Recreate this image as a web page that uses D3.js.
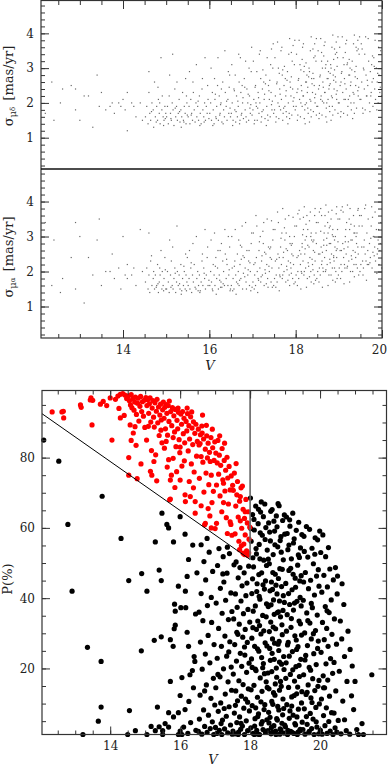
<!DOCTYPE html>
<html>
<head>
<meta charset="utf-8">
<script src="https://cdn.jsdelivr.net/npm/d3@7"></script>
<style>
body{margin:0;background:#fff}
svg{display:block}
text{font-family:"DejaVu Serif","Liberation Serif",serif;fill:#222}
</style>
</head>
<body>
<div id="chart"></div>
<script>
// stars of the upper two panels: [V, sigma mu_delta, sigma mu_alpha]
var topStars = [
[12.2,1.7,3.4],[12.35,2.6,1.6],[12.4,1.5,2.9],[12.55,2.0,1.4],[12.6,2.4,1.8],[12.8,2.5,2.4],[12.9,1.8,1.5],[13.0,1.5,3.0],[13.1,2.2,1.1],[13.2,2.2,2.4],
[13.3,1.3,1.9],[13.4,2.8,2.9],[13.45,1.9,3.5],[13.5,2.3,1.6],[13.6,1.8,2.0],[13.7,1.9,2.0],[13.75,2.0,2.5],[13.8,1.7,1.8],[13.9,2.0,2.1],[14.0,2.1,3.0],
[14.05,1.8,1.9],[14.1,2.3,2.2],[14.2,2.0,1.9],[14.25,1.9,2.1],[14.3,1.6,1.6],[14.4,2.0,3.2],[14.45,1.5,2.0],[14.1,1.2,1.8],[13.95,1.9,1.5],[12.9,2.4,3.4],
[14.52,1.6,1.7],[14.55,1.9,2.1],[14.58,1.4,1.5],[14.6,2.3,1.9],[14.62,1.7,1.4],[14.64,1.5,2.3],[14.67,2.0,1.6],[14.7,1.8,1.8],[14.71,1.3,2.0],[14.73,2.6,1.5],
[14.75,1.6,1.9],[14.78,1.9,1.6],[14.8,1.5,2.2],[14.82,2.1,1.4],[14.84,1.7,1.7],[14.86,1.4,1.9],[14.88,3.3,2.6],[14.9,1.8,1.5],[14.91,2.2,2.0],[14.93,1.6,1.6],
[14.95,1.5,1.8],[14.97,1.9,2.4],[14.99,1.7,1.5],[14.6,2.9,3.1],[14.77,1.45,1.55],[14.85,2.0,2.1],[14.94,1.35,1.45],[14.66,1.75,2.45],[14.81,2.45,1.65],[14.98,1.55,2.05],
[15.01,1.6,1.5],[15.03,1.9,2.0],[15.05,1.4,1.7],[15.07,2.2,1.4],[15.1,1.7,1.9],[15.12,1.5,2.3],[15.14,2.0,1.6],[15.16,1.8,1.5],[15.18,1.35,1.8],[15.2,2.4,2.1],
[15.22,1.6,1.4],[15.24,1.9,1.7],[15.26,1.5,2.0],[15.28,1.7,1.6],[15.3,2.1,1.9],[15.32,1.45,1.5],[15.34,1.8,2.2],[15.36,1.6,1.45],[15.38,2.3,1.8],[15.4,1.5,1.6],
[15.42,1.9,2.0],[15.44,1.7,1.5],[15.46,1.4,1.9],[15.48,2.0,1.7],[15.49,1.65,2.4],[15.08,2.8,2.9],[15.15,3.4,2.7],[15.25,2.6,3.3],[15.35,1.3,1.35],[15.45,2.7,2.5],
[15.11,1.55,1.55],[15.21,1.85,1.95],[15.31,1.75,1.65],[15.41,1.45,2.15],[15.47,2.2,1.45],
[15.51,1.6,1.6],[15.53,1.9,1.8],[15.55,1.4,1.5],[15.57,2.1,2.1],[15.59,1.7,1.4],[15.61,1.5,1.9],[15.63,2.3,1.7],[15.65,1.8,2.2],[15.67,1.45,1.55],[15.69,2.0,1.5],
[15.71,1.6,1.8],[15.73,1.9,2.0],[15.75,1.5,1.6],[15.77,2.2,1.9],[15.79,1.7,1.45],[15.81,1.4,1.7],[15.83,2.4,2.3],[15.85,1.8,1.6],[15.87,1.6,2.1],[15.89,2.0,1.8],
[15.91,1.5,1.5],[15.93,1.9,1.9],[15.95,1.7,2.4],[15.97,2.1,1.6],[15.99,1.55,1.75],[15.54,2.9,2.6],[15.62,2.6,2.8],[15.7,3.1,3.0],[15.78,1.35,1.4],[15.84,2.7,2.5],
[15.9,3.3,3.2],[15.96,2.5,2.7],[15.58,1.65,2.25],[15.74,2.05,1.45],[15.88,1.45,1.95],
[16.01,1.7,1.6],[16.03,2.0,2.0],[16.05,1.5,1.7],[16.07,2.3,1.5],[16.09,1.8,2.2],[16.11,1.4,1.9],[16.13,2.1,1.6],[16.15,1.6,2.4],[16.17,1.9,1.8],[16.19,2.5,2.1],
[16.21,1.5,1.5],[16.23,2.2,1.9],[16.25,1.7,2.6],[16.27,2.0,1.7],[16.29,1.45,1.55],[16.31,2.6,2.3],[16.33,1.8,2.0],[16.35,1.6,1.6],[16.37,2.3,2.5],[16.39,1.9,1.8],
[16.41,1.5,2.2],[16.43,2.1,1.6],[16.45,1.7,1.9],[16.47,2.8,2.7],[16.49,1.6,1.5],[16.04,3.0,2.9],[16.12,2.7,3.1],[16.2,3.3,2.6],[16.28,2.4,2.8],[16.36,3.5,3.2],
[16.44,2.9,3.0],[16.08,1.35,1.45],[16.16,1.55,1.35],[16.24,1.65,1.75],[16.32,1.4,1.65],[16.4,2.05,2.35],[16.48,1.85,1.45],[16.14,2.25,2.15],[16.26,1.95,1.55],[16.46,2.45,2.05],
[16.51,1.7,1.6],[16.53,2.0,2.1],[16.55,1.5,1.8],[16.57,2.4,1.5],[16.59,1.8,2.3],[16.61,1.45,1.9],[16.63,2.2,1.7],[16.65,1.6,2.5],[16.67,1.9,2.0],[16.69,2.6,1.6],
[16.71,1.5,2.2],[16.73,2.3,1.8],[16.75,1.7,2.7],[16.77,2.0,1.5],[16.79,1.55,1.95],[16.81,2.7,2.4],[16.83,1.8,2.1],[16.85,1.6,1.7],[16.87,2.4,2.6],[16.89,2.0,1.9],
[16.91,1.5,2.3],[16.93,2.2,1.6],[16.95,1.7,2.0],[16.97,2.9,2.8],[16.99,1.65,1.55],[16.52,3.1,3.0],[16.6,2.8,3.2],[16.68,3.4,2.9],[16.76,2.5,3.3],[16.84,3.2,3.4],
[16.92,3.0,2.6],[16.98,3.6,3.1],[16.54,1.35,1.45],[16.62,1.75,1.35],[16.7,1.4,1.75],[16.78,2.15,2.45],[16.86,1.45,1.5],[16.94,1.85,2.25],[16.58,2.35,2.15],[16.66,2.05,1.65],
[16.74,1.65,2.35],[16.82,2.45,1.85],[16.9,2.25,2.05],[16.96,1.95,1.45],[16.72,3.3,2.75],
[17.01,1.8,1.7],[17.03,2.1,2.2],[17.05,1.5,1.9],[17.07,2.5,1.6],[17.09,1.9,2.4],[17.11,1.5,2.0],[17.13,2.3,1.8],[17.15,1.7,2.6],[17.17,2.0,2.1],[17.19,2.7,1.7],
[17.21,1.6,2.3],[17.23,2.4,1.9],[17.25,1.8,2.8],[17.27,2.1,1.6],[17.29,1.55,2.05],[17.31,2.8,2.5],[17.33,1.9,2.2],[17.35,1.65,1.8],[17.37,2.5,2.7],[17.39,2.1,2.0],
[17.41,1.6,2.4],[17.43,2.3,1.7],[17.45,1.8,2.1],[17.47,3.0,2.9],[17.49,1.7,1.6],[17.02,3.2,3.1],[17.1,2.9,3.3],[17.18,3.5,3.0],[17.26,2.6,3.4],[17.34,3.3,3.5],
[17.42,3.1,2.7],[17.48,3.7,3.2],[17.04,1.4,1.5],[17.12,1.85,1.4],[17.2,1.45,1.85],[17.28,2.25,2.55],[17.36,1.5,1.55],[17.44,1.95,2.35],[17.06,2.45,2.25],[17.14,2.15,1.75],
[17.22,1.75,2.45],[17.3,2.55,1.95],[17.38,2.35,2.15],[17.46,2.05,1.55],[17.16,3.4,2.85],[17.24,2.95,3.15],[17.32,1.35,1.65],[17.4,2.65,2.65],[17.08,2.0,3.6],[17.44,3.55,3.45],
[17.51,1.8,1.8],[17.53,2.2,2.3],[17.55,1.6,1.9],[17.57,2.6,1.7],[17.59,2.0,2.5],[17.61,1.55,2.1],[17.63,2.4,1.9],[17.65,1.8,2.7],[17.67,2.1,2.2],[17.69,2.8,1.8],
[17.71,1.7,2.4],[17.73,2.5,2.0],[17.75,1.9,2.9],[17.77,2.2,1.7],[17.79,1.6,2.15],[17.81,2.9,2.6],[17.83,2.0,2.3],[17.85,1.7,1.9],[17.87,2.6,2.8],[17.89,2.2,2.1],
[17.91,1.65,2.5],[17.93,2.4,1.8],[17.95,1.9,2.2],[17.97,3.1,3.0],[17.99,1.8,1.7],[17.52,3.3,3.2],[17.6,3.0,3.4],[17.68,3.6,3.1],[17.76,2.7,3.5],[17.84,3.4,3.6],
[17.92,3.2,2.8],[17.98,3.8,3.3],[17.54,1.45,1.55],[17.62,1.9,1.45],[17.7,1.5,1.9],[17.78,2.35,2.65],[17.86,1.55,1.6],[17.94,2.05,2.45],[17.56,2.55,2.35],[17.64,2.25,1.85],
[17.72,1.85,2.55],[17.8,2.65,2.05],[17.88,2.45,2.25],[17.96,2.15,1.65],[17.66,3.5,2.95],[17.74,3.05,3.25],[17.82,1.4,1.75],[17.9,2.75,2.75],[17.58,3.75,3.7],[17.94,3.65,3.55],
[17.7,2.95,3.8],[17.86,3.85,3.0],[17.62,2.85,2.4],[17.78,1.75,3.1],[17.9,3.45,1.95],
[18.01,1.9,1.9],[18.03,2.3,2.4],[18.05,1.65,2.0],[18.07,2.7,1.8],[18.09,2.1,2.6],[18.11,1.6,2.2],[18.13,2.5,2.0],[18.15,1.9,2.8],[18.17,2.2,2.3],[18.19,2.9,1.9],
[18.21,1.8,2.5],[18.23,2.6,2.1],[18.25,2.0,3.0],[18.27,2.3,1.8],[18.29,1.7,2.25],[18.31,3.0,2.7],[18.33,2.1,2.4],[18.35,1.8,2.0],[18.37,2.7,2.9],[18.39,2.3,2.2],
[18.41,1.75,2.6],[18.43,2.5,1.9],[18.45,2.0,2.3],[18.47,3.2,3.1],[18.49,1.9,1.8],[18.02,3.4,3.3],[18.1,3.1,3.5],[18.18,3.7,3.2],[18.26,2.8,3.6],[18.34,3.5,3.7],
[18.42,3.3,2.9],[18.48,3.85,3.4],[18.04,1.5,1.6],[18.12,2.0,1.5],[18.2,1.55,2.0],[18.28,2.45,2.75],[18.36,1.6,1.7],[18.44,2.15,2.55],[18.06,2.65,2.45],[18.14,2.35,1.95],
[18.22,1.95,2.65],[18.3,2.75,2.15],[18.38,2.55,2.35],[18.46,2.25,1.75],[18.16,3.6,3.05],[18.24,3.15,3.35],[18.32,1.45,1.85],[18.4,2.85,2.85],[18.08,3.8,3.75],[18.44,3.7,3.6],
[18.2,3.05,3.85],[18.36,3.9,3.1],[18.12,2.95,2.5],[18.28,1.85,3.2],[18.4,3.55,2.05],[18.05,2.4,3.65],[18.15,3.25,2.7],[18.25,2.6,1.55],[18.35,2.05,3.0],[18.45,3.35,3.8],
[18.22,1.4,2.9],[18.32,2.9,3.45],[18.42,2.7,1.65],[18.18,2.2,3.55],[18.48,1.65,2.8],
[18.51,1.9,2.0],[18.53,2.4,2.5],[18.55,1.7,2.1],[18.57,2.8,1.9],[18.59,2.2,2.7],[18.61,1.65,2.3],[18.63,2.6,2.1],[18.65,2.0,2.9],[18.67,2.3,2.4],[18.69,3.0,2.0],
[18.71,1.85,2.6],[18.73,2.7,2.2],[18.75,2.1,3.1],[18.77,2.4,1.9],[18.79,1.75,2.35],[18.81,3.1,2.8],[18.83,2.2,2.5],[18.85,1.9,2.1],[18.87,2.8,3.0],[18.89,2.4,2.3],
[18.91,1.8,2.7],[18.93,2.6,2.0],[18.95,2.1,2.4],[18.97,3.3,3.2],[18.99,2.0,1.9],[18.52,3.5,3.4],[18.6,3.2,3.6],[18.68,3.75,3.3],[18.76,2.9,3.7],[18.84,3.6,3.75],
[18.92,3.4,3.0],[18.98,3.9,3.5],[18.54,1.55,1.7],[18.62,2.05,1.55],[18.7,1.6,2.05],[18.78,2.5,2.8],[18.86,1.65,1.75],[18.94,2.25,2.6],[18.56,2.75,2.5],[18.64,2.45,2.0],
[18.72,2.0,2.75],[18.8,2.85,2.25],[18.88,2.65,2.45],[18.96,2.35,1.8],[18.66,3.65,3.1],[18.74,3.2,3.4],[18.82,1.5,1.9],[18.9,2.95,2.9],[18.58,3.85,3.8],[18.94,3.75,3.65],
[18.7,3.1,3.9],[18.86,3.95,3.2],[18.62,3.0,2.55],[18.78,1.9,3.25],[18.9,3.55,2.1],[18.55,2.5,3.7],[18.65,3.35,2.75],[18.75,2.7,1.6],[18.85,2.15,3.05],[18.95,3.45,3.85],
[18.72,1.45,2.95],[18.82,3.0,3.5],[18.92,2.75,1.7],[18.68,2.3,3.6],[18.98,1.7,2.85],[18.6,3.45,2.2],[18.8,2.55,3.3],[18.88,3.25,2.4],[18.58,2.1,3.15],[18.96,3.05,2.65],
[19.01,2.0,2.1],[19.03,2.5,2.6],[19.05,1.75,2.2],[19.07,2.9,2.0],[19.09,2.3,2.8],[19.11,1.7,2.4],[19.13,2.7,2.2],[19.15,2.1,3.0],[19.17,2.4,2.5],[19.19,3.1,2.1],
[19.21,1.9,2.7],[19.23,2.8,2.3],[19.25,2.2,3.2],[19.27,2.5,2.0],[19.29,1.8,2.45],[19.31,3.2,2.9],[19.33,2.3,2.6],[19.35,2.0,2.2],[19.37,2.9,3.1],[19.39,2.5,2.4],
[19.41,1.85,2.8],[19.43,2.7,2.1],[19.45,2.2,2.5],[19.47,3.4,3.3],[19.49,2.1,2.0],[19.02,3.6,3.5],[19.1,3.3,3.7],[19.18,3.8,3.4],[19.26,3.0,3.8],[19.34,3.7,3.6],
[19.42,3.5,3.1],[19.48,3.9,3.6],[19.04,1.6,1.8],[19.12,2.1,1.65],[19.2,1.65,2.15],[19.28,2.6,2.9],[19.36,1.7,1.85],[19.44,2.35,2.7],[19.06,2.85,2.6],[19.14,2.55,2.1],
[19.22,2.1,2.85],[19.3,2.95,2.35],[19.38,2.75,2.55],[19.46,2.45,1.9],[19.16,3.7,3.2],[19.24,3.25,3.5],[19.32,1.55,2.0],[19.4,3.05,3.0],[19.08,3.9,3.85],[19.44,3.8,3.75],
[19.2,3.15,3.9],[19.36,3.95,3.3],[19.12,3.1,2.65],[19.28,2.0,3.35],[19.4,3.6,2.2],[19.05,2.6,3.75],[19.15,3.45,2.85],[19.25,2.8,1.7],[19.35,2.25,3.1],[19.45,3.55,3.8],
[19.51,2.1,2.2],[19.53,2.6,2.7],[19.55,1.85,2.3],[19.57,3.0,2.1],[19.59,2.4,2.9],[19.61,1.8,2.5],[19.63,2.8,2.3],[19.65,2.2,3.1],[19.67,2.5,2.6],[19.69,3.2,2.2],
[19.71,2.0,2.8],[19.73,2.9,2.4],[19.75,2.3,3.3],[19.77,2.6,2.1],[19.79,1.9,2.55],[19.81,3.3,3.0],[19.83,2.4,2.7],[19.85,2.1,2.3],[19.87,3.0,3.2],[19.89,2.6,2.5],
[19.91,2.0,2.9],[19.93,2.8,2.2],[19.95,2.3,2.6],[19.97,3.5,3.4],[19.99,2.2,2.1],[19.52,3.7,3.6],[19.6,3.4,3.8],[19.68,3.85,3.5],[19.76,3.1,3.85],[19.84,3.8,3.7],
[19.92,3.6,3.2],[19.56,1.7,1.9],[19.64,2.2,1.75],[19.72,1.75,2.25],[19.8,2.7,3.0],[19.88,1.8,1.95],[19.96,2.45,2.8],[19.58,2.95,2.7],[19.66,2.65,2.2],[19.74,2.2,2.95],
[19.82,3.05,2.45],[19.9,2.85,2.65],[19.54,3.55,3.3],[19.62,3.9,3.9],[19.78,3.35,3.55]
];

// membership panel: [V, P(%)], red = probable members, black = the rest
var memberStars = [
[12.34,93],[12.62,93],[12.67,91.3],[12.66,93.2],[13.15,95],[13.17,94.3],[13.48,89.3],[13.45,97],[13.5,96.3],[13.8,96],
[13.72,95.2],[14.05,85],[14.29,98],[14.22,97.5],[14.36,98.2],[14.53,80],[14.53,75],[14.77,74],[14.0,97],[14.15,96.6],
[14.4,92],[14.47,96.8],[13.9,94.8],[14.25,94],[14.42,97.8],[13.43,96.4],[14.29,91.3],
[14.52,97.6],[14.55,96.2],[14.58,95],[14.6,97.9],[14.62,94.2],[14.65,96.8],[14.68,93.5],[14.7,95.8],[14.72,97.2],[14.75,92.3],
[14.78,95.5],[14.8,96.9],[14.82,90.4],[14.85,94.6],[14.87,97.4],[14.9,93.1],[14.92,95.9],[14.95,91.8],[14.97,96.3],[14.99,88.6],
[14.57,89.3],[14.71,88.8],[14.66,87],[14.74,83.5],[14.88,78.2],[14.6,84.9],
[15.02,97.1],[15.04,85],[15.05,94.8],[15.07,96.5],[15.1,92.6],[15.12,95.3],[15.14,97],[15.16,90.1],[15.18,82],[15.2,94.1],
[15.22,96.2],[15.24,91.5],[15.26,88.7],[15.28,95.6],[15.3,80.8],[15.32,93.2],[15.34,96.6],[15.36,89.9],[15.38,94.4],[15.4,86.3],
[15.42,92.1],[15.44,95.2],[15.46,90.7],[15.48,84.2],[15.5,93.6],[15.15,76.1],[15.33,73.4],[15.25,78.9],[15.45,87.8],[15.09,88.9],[15.19,75],
[15.52,95.8],[15.54,91.2],[15.56,94.3],[15.58,88.2],[15.6,95.1],[15.62,92.6],[15.64,86.4],[15.66,94.8],[15.67,79.4],[15.68,90.3],
[15.7,68],[15.72,73.6],[15.73,93.1],[15.75,75],[15.76,89.1],[15.78,94.2],[15.8,85.7],[15.82,91.9],[15.84,87.3],[15.86,93.7],
[15.88,83.1],[15.9,76],[15.91,90.6],[15.93,88.2],[15.95,92.9],[15.97,85.1],[15.99,81.4],[15.55,82.7],[15.63,77.3],[15.72,68.2],
[15.85,71.5],[15.6,84.6],[15.8,79.8],[15.94,94.1],[15.69,96.1],
[16.0,83],[16.0,73.6],[16.02,92.4],[16.04,89.5],[16.05,77.6],[16.07,93.1],[16.09,86.8],[16.11,91.2],[16.13,84.2],[16.14,69.4],
[16.15,67.5],[16.17,90.3],[16.19,87.6],[16.21,92.5],[16.23,81.9],[16.25,89.1],[16.27,85.3],[16.29,68.9],[16.3,91.6],[16.32,78.2],
[16.34,88.4],[16.36,83.7],[16.38,90.2],[16.4,75.9],[16.42,86.9],[16.43,64.2],[16.43,67.5],[16.45,89.5],[16.47,80.4],[16.49,84.6],
[16.12,79.1],[16.26,73.2],[16.38,71.4],[16.2,94.1],[16.33,93],
[16.52,88.1],[16.54,83.6],[16.57,84],[16.58,86.5],[16.6,80.3],[16.62,89],[16.63,87],[16.65,78.7],[16.67,85.3],[16.7,60.9],
[16.72,61.3],[16.72,82.4],[16.74,75.6],[16.76,86.2],[16.78,79.9],[16.8,84.1],[16.82,72.3],[16.84,81.5],[16.86,78.9],[16.88,85.7],
[16.89,75],[16.89,60],[16.91,67.2],[16.93,82.8],[16.95,70.4],[16.97,79.2],[16.99,84.5],[16.55,74.1],[16.68,70.2],[16.8,65.5],
[16.6,66.3],[16.75,89.2],[16.92,88.1],[16.64,92.1],[16.85,63.4],
[17.0,59.8],[17.02,81.3],[17.04,61.3],[17.04,72.2],[17.06,78.5],[17.08,84.9],[17.1,75.3],[17.12,80.7],[17.14,69.1],[17.16,77.8],
[17.19,64.6],[17.2,82.6],[17.22,73.7],[17.24,72.7],[17.24,67.2],[17.26,79.2],[17.28,70.5],[17.3,76.4],[17.32,62.9],[17.34,80.1],
[17.36,74.2],[17.38,66.8],[17.4,77.5],[17.43,61.7],[17.43,70.8],[17.45,61],[17.46,74.8],[17.48,57.9],[17.5,72.1],[17.13,86.2],
[17.27,84.1],[17.35,58.4],
[17.52,70.7],[17.55,75.6],[17.57,58.3],[17.59,66.2],[17.62,69.4],[17.64,73.2],[17.66,63.1],[17.68,56.2],[17.7,67.6],[17.72,68.9],
[17.72,62],[17.74,71.4],[17.76,59.9],[17.78,71.9],[17.8,65.3],[17.82,55.4],[17.84,62.7],[17.86,64.6],[17.86,58],[17.88,68.1],
[17.9,53.5],[17.92,61.4],[17.95,64.6],[17.97,56.8],[17.99,60.2],[17.7,53.8],[17.8,52.8],[17.93,52.2],[17.6,78.3],[17.75,54.9],
[17.84,52.4],[17.96,52.9]
];

var fieldStars = [
[12.1,85],[12.53,79],[12.79,61],[13.77,69],[14.31,57],[12.91,42],[13.35,26],[13.74,22],[13.74,9],[13.66,5],
[13.22,1.2],[14.53,45],[14.55,8],[14.5,1.2],[14.72,2.3],[15.05,1.2],[15.17,3.5],[15.29,2.3],[15.4,3.4],[15.5,2.3],
[15.5,1.2],[15.57,4.3],[15.67,3.3],[15.67,7.4],[15.81,6.2],[15.95,7.4],[15.95,1.2],[16.05,1.2],[16.14,8.3],[16.0,12.3],
[15.72,16.3],[16.05,17.4],[15.72,28.2],[15.8,26.3],[15.83,31.3],[15.86,32.3],[15.86,36.3],[15.84,38.3],[15.95,43.4],[16.02,37.3],
[16.16,37.3],[16.2,30.3],[16.24,26.3],[16.28,18.2],[16.35,19.4],[16.38,14.5],[16.2,46.2],[16.48,47.2],[16.4,23.4],[16.42,22],
[14.89,25],[15.05,42],[14.9,47],[15.26,28],[15.46,29],[15.46,45],[15.35,9],[15.29,56],[15.48,64.2],[15.62,61],
[15.67,60],[15.81,56],[16.0,63.2],[16.14,58.2],[16.24,51],[15.4,48],[16.0,2.2],[16.1,3.3],[16.22,1.5],[16.3,4.6],
[16.45,2.4],[16.25,10.6],[16.44,35.5],[16.15,42],[16.36,55.1],
[16.52,2.1],[16.55,5.6],[16.57,12.4],[16.58,27.5],[16.6,41.3],[16.62,1.3],[16.63,19.8],[16.65,33.6],[16.67,8.2],[16.68,50.4],
[16.7,3.5],[16.72,24.1],[16.73,45.2],[16.75,15.3],[16.77,1.8],[16.78,37.9],[16.8,29.4],[16.81,6.7],[16.83,53.1],[16.85,21.6],
[16.86,2.9],[16.88,11.5],[16.89,40.2],[16.9,33.1],[16.92,4.8],[16.93,47.6],[16.95,17.2],[16.96,1.2],[16.97,26.8],[16.99,9.6],
[16.6,55.2],[16.77,57],[16.54,36],[16.7,13.6],
[17.01,3.2],[17.02,14.5],[17.03,38.6],[17.05,1.5],[17.06,22.9],[17.07,49.3],[17.09,7.8],[17.1,31.4],[17.11,54.1],[17.12,2.4],
[17.14,17.6],[17.15,42.8],[17.16,10.2],[17.18,26.3],[17.19,1.2],[17.2,35.7],[17.21,5.3],[17.23,51.8],[17.24,19.9],[17.25,44.6],
[17.27,2.8],[17.28,29.2],[17.29,12.7],[17.3,39.4],[17.32,6.4],[17.33,23.5],[17.34,47.1],[17.36,1.7],[17.37,16.2],[17.38,33.9],
[17.4,9.1],[17.41,52.7],[17.42,27.6],[17.44,3.9],[17.45,41.5],[17.46,20.4],[17.47,13.8],[17.48,36.2],[17.49,1.3],[17.35,54.5],
[17.17,4.3],[17.26,8.6],[17.39,24.7],[17.08,18.3],[17.22,46.9],
[17.51,2.2],[17.52,18.4],[17.53,34.1],[17.54,49.5],[17.55,7.3],[17.56,26.8],[17.57,1.4],[17.58,41.2],[17.59,13.6],[17.6,50.3],
[17.61,22.1],[17.62,4.6],[17.63,37.4],[17.64,10.8],[17.65,29.7],[17.66,45.8],[17.67,1.9],[17.68,16.5],[17.69,32.6],[17.7,6.2],
[17.71,48.7],[17.72,24.3],[17.73,2.7],[17.74,39.2],[17.75,12.1],[17.76,20.6],[17.77,43.5],[17.78,3.6],[17.79,28.9],[17.8,15.4],
[17.81,35.6],[17.82,8.7],[17.83,47.2],[17.84,1.2],[17.85,23.8],[17.86,31.1],[17.87,11.3],[17.88,40.7],[17.89,5.1],[17.9,18.9],
[17.91,44.3],[17.92,27.4],[17.93,2.3],[17.94,36.8],[17.95,14.2],[17.96,49.1],[17.97,21.5],[17.98,7.9],[17.99,33.2],[17.58,9.5],
[17.66,1.2],[17.74,4.4],[17.84,26.1],[17.93,10.4],[17.62,30.3],
[18.01,68.5],[18.02,3.1],[18.03,56.2],[18.04,22.7],[18.05,41.3],[18.06,9.4],[18.07,63.8],[18.08,31.6],[18.09,1.5],[18.1,48.9],
[18.11,15.2],[18.12,59.4],[18.13,26.3],[18.14,5.7],[18.15,37.8],[18.16,66.2],[18.17,19.4],[18.18,52.6],[18.19,2.4],[18.2,44.1],
[18.21,11.8],[18.22,33.5],[18.23,61.2],[18.24,7.1],[18.25,24.9],[18.26,55.3],[18.27,1.2],[18.28,39.7],[18.29,17.3],[18.3,64.5],
[18.31,29.8],[18.32,4.2],[18.33,47.2],[18.34,13.5],[18.35,57.9],[18.36,35.1],[18.37,2.6],[18.38,21.4],[18.39,50.8],[18.4,8.3],
[18.41,42.6],[18.42,66.8],[18.43,27.3],[18.44,1.8],[18.45,60.1],[18.46,16.2],[18.47,38.4],[18.48,5.4],[18.49,53.7],[18.03,13.9],
[18.05,28.6],[18.07,45.5],[18.09,36.3],[18.11,62.4],[18.13,3.6],[18.15,19.8],[18.17,54.1],[18.19,41.9],[18.21,25.6],[18.23,1.3],
[18.25,46.7],[18.27,32.2],[18.29,58.6],[18.31,10.5],[18.33,23.1],[18.35,4.9],[18.37,43.8],[18.39,30.7],[18.41,18.5],[18.43,56.7],
[18.45,2.1],[18.47,49.3],[18.49,14.6],[18.02,59.8],[18.12,1.2],[18.22,6.3],[18.32,67.4],[18.42,9.7],[18.18,31.1],[18.28,51.2],
[18.38,63.2],[18.48,26.4],[18.06,20.3],[18.16,8.8],[18.26,40.5],[18.36,20.2],[18.46,34.7],[18.08,51.5],[18.24,65.3],[18.44,44.9],
[18.51,2.3],[18.52,37.6],[18.53,61.4],[18.54,14.2],[18.55,49.8],[18.56,25.7],[18.57,6.1],[18.58,56.3],[18.59,33.2],[18.6,1.4],
[18.61,44.6],[18.62,19.1],[18.63,65.2],[18.64,28.4],[18.65,9.8],[18.66,52.4],[18.67,39.5],[18.68,3.7],[18.69,22.6],[18.7,59.1],
[18.71,12.4],[18.72,46.8],[18.73,31.3],[18.74,1.2],[18.75,63.4],[18.76,17.5],[18.77,41.2],[18.78,5.3],[18.79,54.6],[18.8,26.9],
[18.81,36.1],[18.82,8.2],[18.83,66.3],[18.84,21.8],[18.85,48.4],[18.86,2.8],[18.87,34.7],[18.88,57.5],[18.89,14.9],[18.9,43.3],
[18.91,4.4],[18.92,29.6],[18.93,62.1],[18.94,11.3],[18.95,50.9],[18.96,23.4],[18.97,1.6],[18.98,38.8],[18.99,58.2],[18.51,18.7],
[18.53,7.5],[18.55,30.5],[18.57,42.1],[18.59,64.7],[18.61,3.2],[18.63,24.3],[18.65,47.3],[18.67,13.1],[18.69,35.4],[18.71,55.2],
[18.73,2.2],[18.75,20.1],[18.77,60.3],[18.79,9.2],[18.81,45.6],[18.83,27.7],[18.85,1.3],[18.87,16.3],[18.89,53.1],[18.91,32.4],
[18.93,6.8],[18.95,40.7],[18.97,19.7],[18.99,3.9],[18.52,51.1],[18.54,4.5],[18.56,58.8],[18.58,22.3],[18.6,38.1],[18.62,10.6],
[18.64,1.9],[18.66,31.8],[18.68,61.9],[18.7,27.2],[18.72,15.6],[18.74,43.7],[18.76,5.7],[18.78,35.9],[18.8,66.9],[18.82,25.1],
[18.84,13.8],[18.86,56.4],[18.88,2.5],[18.9,21.2],[18.92,48.2],[18.94,36.5],[18.96,8.6],[18.98,63.7],[18.64,42.5],[18.84,39.2],
[19.01,3.4],[19.02,44.2],[19.03,21.6],[19.04,63.1],[19.05,9.7],[19.06,35.3],[19.07,1.2],[19.08,53.8],[19.09,27.4],[19.1,14.6],
[19.11,47.9],[19.12,5.8],[19.13,38.2],[19.14,60.5],[19.15,18.3],[19.16,2.1],[19.17,31.7],[19.18,51.2],[19.19,11.9],[19.2,42.4],
[19.21,24.8],[19.22,64.2],[19.23,6.7],[19.24,36.6],[19.25,1.5],[19.26,56.9],[19.27,16.4],[19.28,29.3],[19.29,45.7],[19.3,3.9],
[19.31,20.5],[19.32,59.3],[19.33,12.8],[19.34,39.1],[19.35,1.2],[19.36,49.4],[19.37,26.2],[19.38,8.4],[19.39,61.6],[19.4,33.5],
[19.41,17.7],[19.42,44.9],[19.43,2.7],[19.44,54.3],[19.45,22.6],[19.46,37.8],[19.47,10.2],[19.48,58.1],[19.49,4.7],[19.02,17.2],
[19.04,30.6],[19.06,58.4],[19.08,2.4],[19.1,41.3],[19.12,23.5],[19.14,7.9],[19.16,48.5],[19.18,34.2],[19.2,1.8],[19.22,19.6],
[19.24,55.7],[19.26,12.3],[19.28,4.3],[19.3,43.1],[19.32,28.1],[19.34,6.2],[19.36,14.7],[19.38,52.3],[19.4,20.9],[19.42,2.2],
[19.44,32.7],[19.46,46.4],[19.48,13.4],[19.13,62.3],[19.23,46.8],[19.33,25.4],[19.43,40.2],[19.07,26.7],[19.19,9.3],[19.27,38.6],
[19.37,1.9],[19.47,29.5],[19.11,55.1],[19.41,51.6],
[19.51,2.6],[19.52,39.4],[19.53,18.2],[19.54,57.6],[19.55,8.5],[19.56,30.1],[19.57,1.3],[19.58,47.3],[19.59,23.7],[19.6,12.6],
[19.61,60.4],[19.62,35.8],[19.63,4.1],[19.64,26.5],[19.65,51.7],[19.66,15.3],[19.67,42.7],[19.68,1.7],[19.69,20.3],[19.7,59.6],
[19.71,32.9],[19.72,7.2],[19.73,45.1],[19.74,11.6],[19.75,28.4],[19.76,2.9],[19.77,54.2],[19.78,37.3],[19.79,17.1],[19.8,5.6],
[19.81,49.8],[19.82,24.2],[19.83,1.2],[19.84,40.9],[19.85,13.7],[19.86,57.2],[19.87,30.8],[19.88,8.9],[19.89,21.1],[19.9,46.3],
[19.91,3.3],[19.92,35.2],[19.93,56.6],[19.94,14.9],[19.95,27.8],[19.96,1.4],[19.97,43.4],[19.98,9.9],[19.99,59.1],[19.53,44.6],
[19.57,22.4],[19.61,6.3],[19.65,33.6],[19.69,2.1],[19.73,19.5],[19.77,10.3],[19.81,29.9],[19.85,52.5],[19.89,4.8],[19.93,25.7],
[19.97,16.6],[19.55,53.3],[19.75,38.5],[19.95,48.1],[19.63,13.2],
[20.01,2.4],[20.02,53],[20.03,24.6],[20.04,11.3],[20.05,41.7],[20.06,1.3],[20.07,33.1],[20.08,58],[20.09,17.9],[20.1,6.6],
[20.11,46.5],[20.12,28.2],[20.13,14.5],[20.14,3.7],[20.15,37.6],[20.16,51.8],[20.17,21.3],[20.18,8.8],[20.19,31.4],[20.2,1.5],
[20.21,43.2],[20.22,16.7],[20.23,26.3],[20.24,54.4],[20.25,4.9],[20.26,35.9],[20.27,12.1],[20.28,48.3],[20.29,2.2],[20.3,22.8],
[20.32,39.5],[20.33,7.4],[20.34,29.7],[20.36,18.6],[20.37,1.2],[20.38,45.2],[20.4,21.7],[20.4,7.3],[20.41,34.1],[20.43,3.1],
[20.44,48.7],[20.45,13.6],[20.47,26.9],[20.48,1.9],[20.49,41.2],[20.1,14.5],[20.2,36.4],
[20.5,46.3],[20.52,5.2],[20.55,19.2],[20.58,33.5],[20.6,1.4],[20.62,28.4],[20.65,10.7],[20.68,38.2],[20.7,23.4],[20.7,5.4],
[20.75,2.3],[20.77,16.3],[20.8,30.6],[20.86,25.4],[20.9,12.2],[20.96,8.3],[21.0,16.3],[21.05,2.6],[21.1,1.2],[21.2,4.3],
[21.24,1.2],[21.48,18.2],[20.85,1.3],[20.63,44.1],[20.92,20.7]
];

// selection boundaries drawn in the lower panel
var cutDiagonal = [[12.05,92.5],[18,51]];
var cutVertical = [[18,51],[18,99.1]];

var topXTicks = d3.range(12.5, 20.01, 0.5);
var topXLabels = [14, 16, 18, 20];
var sigmaMinor = d3.range(0.2, 4.81, 0.2);
var sigmaLabels = [1, 2, 3, 4];
var botXTicks = d3.range(12.5, 21.81, 0.5);
var botXLabels = [14, 16, 18, 20];
var pMinor = d3.range(5, 96, 5);
var pLabels = [20, 40, 60, 80];

var W = 388, H = 768;
var svg = d3.select("#chart").append("svg").attr("width", W).attr("height", H);

var xTop = d3.scaleLinear().domain([12.1, 20]).range([41, 382]);
var yUp = d3.scaleLinear().domain([0.1, 4.93]).range([169, 1]);
var yLo = d3.scaleLinear().domain([0.1, 4.93]).range([338, 169]);
var xBot = d3.scaleLinear().domain([12.05, 21.9]).range([42, 386.5]);
var yBot = d3.scaleLinear().domain([1.2, 99.1]).range([734.5, 390.5]);

function tickSet(g, axis, scale, values, size, labelled, tr) {
    var a = g.append("g").attr("transform", tr)
        .call(axis(scale).tickValues(values).tickSize(-size).tickSizeOuter(0).tickPadding(labelled ? 7 : 0)
            .tickFormat(labelled ? d3.format("d") : ""));
    a.select(".domain").remove();
    a.attr("font-family", null).attr("font-size", null);
    a.selectAll("line").attr("stroke", "#333").attr("stroke-width", 1);
    a.selectAll("text").style("font-size", "12px").attr("fill", "#222");
    return a;
}

function ticksFor(g, x, y, xt, xl, yt, yl, sides) {
    var x0 = x.range()[0], x1 = x.range()[1], y0 = y.range()[0], y1 = y.range()[1];
    if (sides.bottom) {
        tickSet(g, d3.axisBottom, x, xt, 4, false, "translate(0," + y0 + ")");
        var lab = tickSet(g, d3.axisBottom, x, xl, 8, true, "translate(0," + y0 + ")");
        // keep the last label inside the page edge
        lab.selectAll("text").filter(function(d){ return x(d) > W - 10; }).attr("dx", -3);
    }
    if (sides.top) {
        tickSet(g, d3.axisTop, x, xt, 4, false, "translate(0," + y1 + ")");
        tickSet(g, d3.axisTop, x, xl, 8, false, "translate(0," + y1 + ")");
    }
    tickSet(g, d3.axisLeft, y, yt, 4, false, "translate(" + x0 + ",0)");
    tickSet(g, d3.axisLeft, y, yl, 8, true, "translate(" + x0 + ",0)");
    tickSet(g, d3.axisRight, y, yt, 4, false, "translate(" + x1 + ",0)");
    tickSet(g, d3.axisRight, y, yl, 8, false, "translate(" + x1 + ",0)");
}

// ---- upper panels
var gTop = svg.append("g");
function sigmaPanel(y, col) {
    gTop.append("g").selectAll("rect")
        .data(topStars)
        .enter().append("rect")
        .attr("x", function(d){ return xTop(d[0]) - 0.6; })
        .attr("y", function(d){ return y(d[col]) - 0.6; })
        .attr("width", 1.2).attr("height", 1.2)
        .attr("fill", "#6a6a6a");
}
sigmaPanel(yUp, 1);
sigmaPanel(yLo, 2);

ticksFor(gTop, xTop, yUp, topXTicks, topXLabels, sigmaMinor, sigmaLabels, {top: true});
ticksFor(gTop, xTop, yLo, topXTicks, topXLabels, sigmaMinor, sigmaLabels, {bottom: true});

gTop.append("rect").attr("x", 41).attr("y", 0.5).attr("width", 341).attr("height", 337.5)
    .attr("fill", "none").attr("stroke", "#333").attr("stroke-width", 1.2);
gTop.append("line").attr("x1", 41).attr("x2", 382).attr("y1", 169).attr("y2", 169)
    .attr("stroke", "#111").attr("stroke-width", 1.3);

function sigmaLabel(cy, sub) {
    var t = gTop.append("text").attr("transform", "translate(13," + cy + ") rotate(-90)")
        .attr("text-anchor", "middle").style("font-size", "13px");
    t.append("tspan").text("\u03c3");
    t.append("tspan").text("\u03bc").attr("baseline-shift", "-30%").style("font-size", "10px");
    t.append("tspan").text(sub).attr("baseline-shift", "-25%").style("font-size", "7px");
    t.append("tspan").text(" [mas/yr]").attr("dx", 2);
}
sigmaLabel(86, "\u03b4");
sigmaLabel(257, "\u03b1");

gTop.append("text").attr("x", 210).attr("y", 370).attr("text-anchor", "middle")
    .style("font-size", "13px").style("font-style", "italic").text("V");

// ---- membership panel
var gBot = svg.append("g");
gBot.append("g").selectAll("circle")
    .data(fieldStars)
    .enter().append("circle")
    .attr("cx", function(d){ return xBot(d[0]); })
    .attr("cy", function(d){ return yBot(d[1]); })
    .attr("r", 2.6).attr("fill", "#000");
gBot.append("g").selectAll("circle")
    .data(memberStars)
    .enter().append("circle")
    .attr("cx", function(d){ return xBot(d[0]); })
    .attr("cy", function(d){ return yBot(d[1]); })
    .attr("r", 2.6).attr("fill", "#ff0000");

var lineGen = d3.line().x(function(d){ return xBot(d[0]); }).y(function(d){ return yBot(d[1]); });
gBot.append("path").attr("d", lineGen(cutDiagonal)).attr("fill", "none").attr("stroke", "#000").attr("stroke-width", 1);
gBot.append("path").attr("d", lineGen(cutVertical)).attr("fill", "none").attr("stroke", "#666").attr("stroke-width", 1.6);

ticksFor(gBot, xBot, yBot, botXTicks, botXLabels, pMinor, pLabels, {top: true, bottom: true});
gBot.append("rect").attr("x", 42).attr("y", 390.5).attr("width", 344.5).attr("height", 344)
    .attr("fill", "none").attr("stroke", "#333").attr("stroke-width", 1.2);

gBot.append("text").attr("transform", "translate(12,579) rotate(-90)").attr("text-anchor", "middle")
    .style("font-size", "13px").text("P(%)");
gBot.append("text").attr("x", 213).attr("y", 764).attr("text-anchor", "middle")
    .style("font-size", "13px").style("font-style", "italic").text("V");
</script>
</body>
</html>
